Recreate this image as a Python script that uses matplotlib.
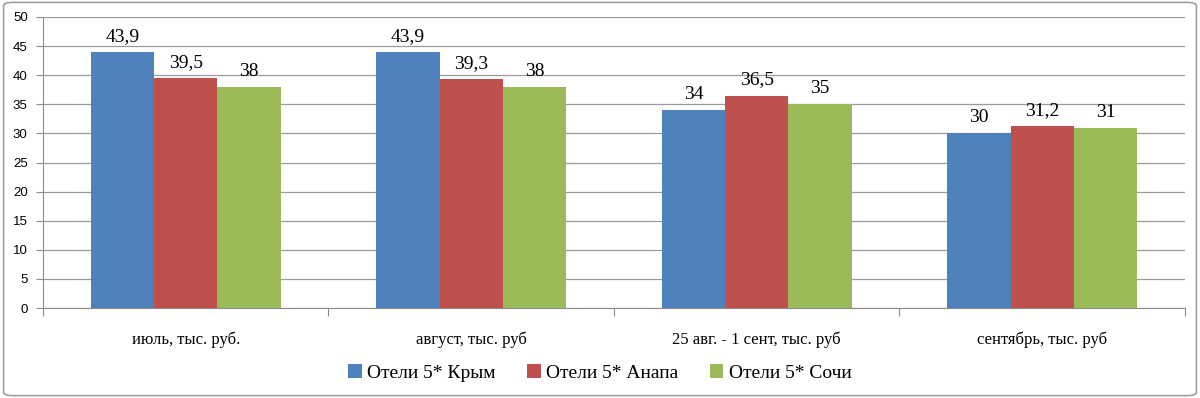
import matplotlib
matplotlib.use("Agg")
import matplotlib.pyplot as plt
import numpy as np
from matplotlib.patches import FancyBboxPatch

categories = ["июль, тыс. руб.", "август, тыс. руб", "25 авг. - 1 сент, тыс. руб", "сентябрь, тыс. руб"]
series_names = ["Отели 5* Крым", "Отели 5* Анапа", "Отели 5* Сочи"]
krym = [43.9, 43.9, 34, 30]
anapa = [39.5, 39.3, 36.5, 31.2]
sochi = [38, 38, 35, 31]
labels_krym = ["43,9", "43,9", "34", "30"]
labels_anapa = ["39,5", "39,3", "36,5", "31,2"]
labels_sochi = ["38", "38", "35", "31"]
colors = ["#4F81BD", "#C0504D", "#9BBB59"]

serif = ["Liberation Serif", "DejaVu Serif"]
sans = ["Liberation Sans", "DejaVu Sans"]

fig = plt.figure(figsize=(12, 3.98), dpi=100)
border = FancyBboxPatch((0.003, 0.006), 0.994, 0.988, boxstyle="round,pad=0,rounding_size=0.008",
                        transform=fig.transFigure, facecolor="none", edgecolor="#A0A0A0",
                        linewidth=1.2, zorder=-1)
fig.patches.append(border)

ax = fig.add_axes([0.0358, 0.2261, 0.9517, 0.7312])
ax.set_facecolor("none")
x = np.arange(len(categories))
w = 0.222
data = [krym, anapa, sochi]
labs = [labels_krym, labels_anapa, labels_sochi]
for i, (vals, lab) in enumerate(zip(data, labs)):
    pos = x + (i - 1) * w
    bars = ax.bar(pos, vals, width=w, color=colors[i], label=series_names[i], zorder=3)
    for b, v, t in zip(bars, vals, lab):
        ax.text(b.get_x() + b.get_width() / 2, v + 1.9, t, ha="center", va="baseline",
                fontsize=14, family=serif, zorder=4)

ax.set_xlim(-0.5, len(categories) - 0.5)
ax.set_ylim(0, 50)
ax.set_yticks(np.arange(0, 51, 5))
ax.yaxis.grid(True, color="#9A9A9A", linewidth=0.9, zorder=0)
ax.set_axisbelow(True)
for s in ["top", "right"]:
    ax.spines[s].set_visible(False)
ax.spines["left"].set_color("#8C8C8C")
ax.spines["bottom"].set_color("#8C8C8C")
ax.tick_params(axis="y", length=5, color="#8C8C8C", labelsize=9.5, pad=6)
for t in ax.get_yticklabels():
    t.set_family(sans)
ax.set_xticks(np.arange(-0.5, len(categories), 1.0))
ax.set_xticklabels([])
ax.tick_params(axis="x", length=6, color="#8C8C8C")
ax.set_xticks(x, minor=True)
ax.set_xticklabels(categories, minor=True, fontsize=12, family=serif)
ax.tick_params(axis="x", which="minor", length=0, pad=17)

leg = fig.legend(loc="center", bbox_to_anchor=(0.5, 0.063), ncol=3, frameon=False,
                 prop={"family": serif, "size": 14}, handlelength=0.7, handleheight=0.7,
                 handletextpad=0.3, columnspacing=1.6)

fig.savefig("out.png", dpi=100)
